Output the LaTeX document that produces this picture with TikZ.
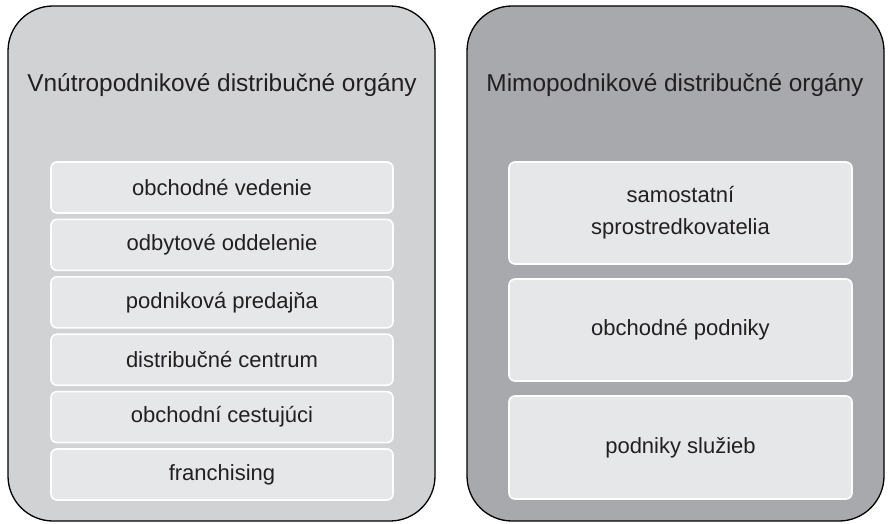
\documentclass[tikz,border=0pt]{standalone}
\usepackage{fontspec}
\setmainfont{Liberation Sans}
\definecolor{lightpanel}{HTML}{D1D2D4}
\definecolor{darkpanel}{HTML}{A7A9AC}
\definecolor{itemfill}{HTML}{E6E7E8}
\definecolor{textcol}{HTML}{231F20}
\begin{document}
\begin{tikzpicture}[x=1pt,y=-1pt,
  panel/.style={draw=black, line width=1.3pt, rounded corners=45pt},
  item/.style={draw=white, line width=1.6pt, fill=itemfill, rounded corners=6pt},
  title/.style={font=\fontsize{24.4}{28}\selectfont, text=textcol, inner sep=0pt},
  itemtext/.style={font=\fontsize{22}{32}\selectfont, text=textcol, align=center, inner sep=0pt}]
\useasboundingbox (0,0) rectangle (888,524);
% panels
\draw[panel, fill=lightpanel] (8,6) rectangle (435,521);
\draw[panel, fill=darkpanel] (467,6) rectangle (884,521);
\node[title] (tl) at (222,85) {Vnútropodnikové distribučné orgány};
\node[title] (tr) at (675,85) {Mimopodnikové distribučné orgány};
% left items
\foreach \i/\t in {0/obchodné vedenie,1/odbytové oddelenie,2/podniková predajňa,3/distribučné centrum,4/obchodní cestujúci,5/franchising}{
  \pgfmathsetmacro{\top}{162+57.4*\i}
  \draw[item] (51,\top) rectangle (393,\top+51);
  \node[itemtext] (l\i) at (222,\top+25.5) {\t};
}
% right items
\draw[item] (509,162) rectangle (852,264);
\node[itemtext] (r0) at (680.5,213) {samostatní\\sprostredkovatelia};
\draw[item] (509,279) rectangle (852,381);
\node[itemtext] (r1) at (680.5,330) {obchodné podniky};
\draw[item] (509,396) rectangle (852,499);
\node[itemtext] (r2) at (680.5,447.5) {podniky služieb};
\end{tikzpicture}
\end{document}
